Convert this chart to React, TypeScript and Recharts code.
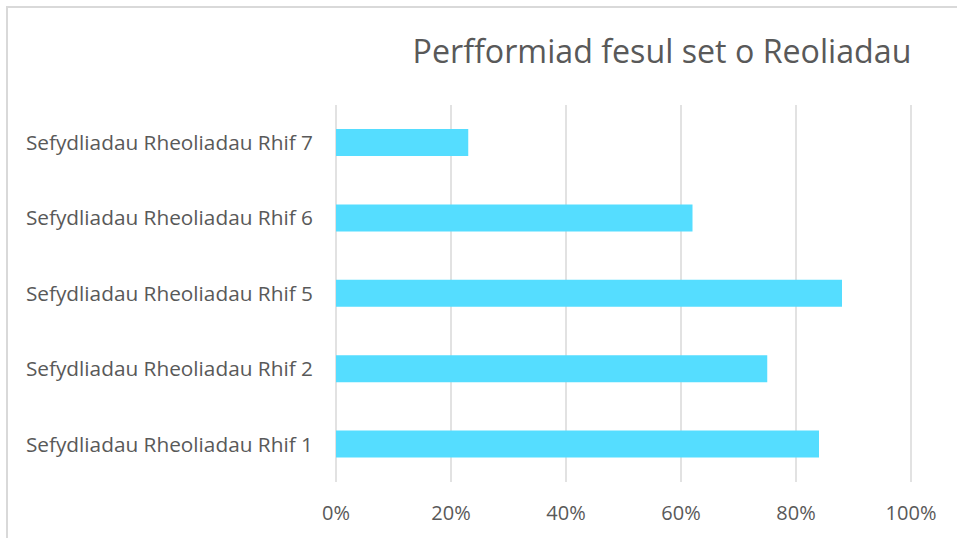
import React from "react";
import { BarChart, Bar, XAxis, YAxis, CartesianGrid } from "recharts";

const categories = [
  "Sefydliadau Rheoliadau Rhif 7",
  "Sefydliadau Rheoliadau Rhif 6",
  "Sefydliadau Rheoliadau Rhif 5",
  "Sefydliadau Rheoliadau Rhif 2",
  "Sefydliadau Rheoliadau Rhif 1",
];
const values = [0.23, 0.62, 0.88, 0.75, 0.84];
const xTicks = [0, 0.2, 0.4, 0.6, 0.8, 1.0];
const title = "Perfformiad fesul set o Reoliadau";

const data = categories.map((name, i) => ({ name, value: values[i] }));

const FONT = "'Open Sans', sans-serif";
const TEXT = "#595959";

export default function App() {
  return (
    <div style={{ position: "absolute", left: 0, top: 0, width: 957, height: 538, background: "#fff", overflow: "hidden" }}>
      <div
        style={{
          position: "absolute",
          left: 6,
          top: 6,
          width: 1000,
          height: 600,
          borderLeft: "2px solid #d9d9d9",
          borderTop: "2px solid #d9d9d9",
          boxSizing: "border-box",
        }}
      />
      <div
        style={{
          position: "absolute",
          left: 362,
          width: 600,
          top: 29,
          textAlign: "center",
          fontFamily: FONT,
          fontSize: 32.2,
          color: TEXT,
          lineHeight: "44px",
          whiteSpace: "nowrap",
        }}
      >
        {title}
      </div>
      <div style={{ position: "absolute", left: 0, top: 0 }}>
        <BarChart
          width={957}
          height={538}
          data={data}
          layout="vertical"
          margin={{ top: 105, right: 46, bottom: 0, left: 0 }}
        >
          <CartesianGrid horizontal={false} stroke="#d9d9d9" strokeWidth={1.5} />
          <XAxis
            type="number"
            domain={[0, 1]}
            ticks={xTicks}
            tickFormatter={(v: number) => `${Math.round(v * 100)}%`}
            axisLine={false}
            tickLine={false}
            height={56}
            tickMargin={18}
            tick={{ fill: TEXT, fontSize: 20, fontFamily: FONT }}
            interval={0}
          />
          <YAxis
            type="category"
            dataKey="name"
            width={336}
            axisLine={false}
            tickLine={false}
            tickMargin={17}
            tick={{ fill: TEXT, fontSize: 20.8, fontFamily: FONT }}
            interval={0}
          />
          <Bar dataKey="value" fill="#55DDFF" barSize={27} isAnimationActive={false} />
        </BarChart>
      </div>
    </div>
  );
}
